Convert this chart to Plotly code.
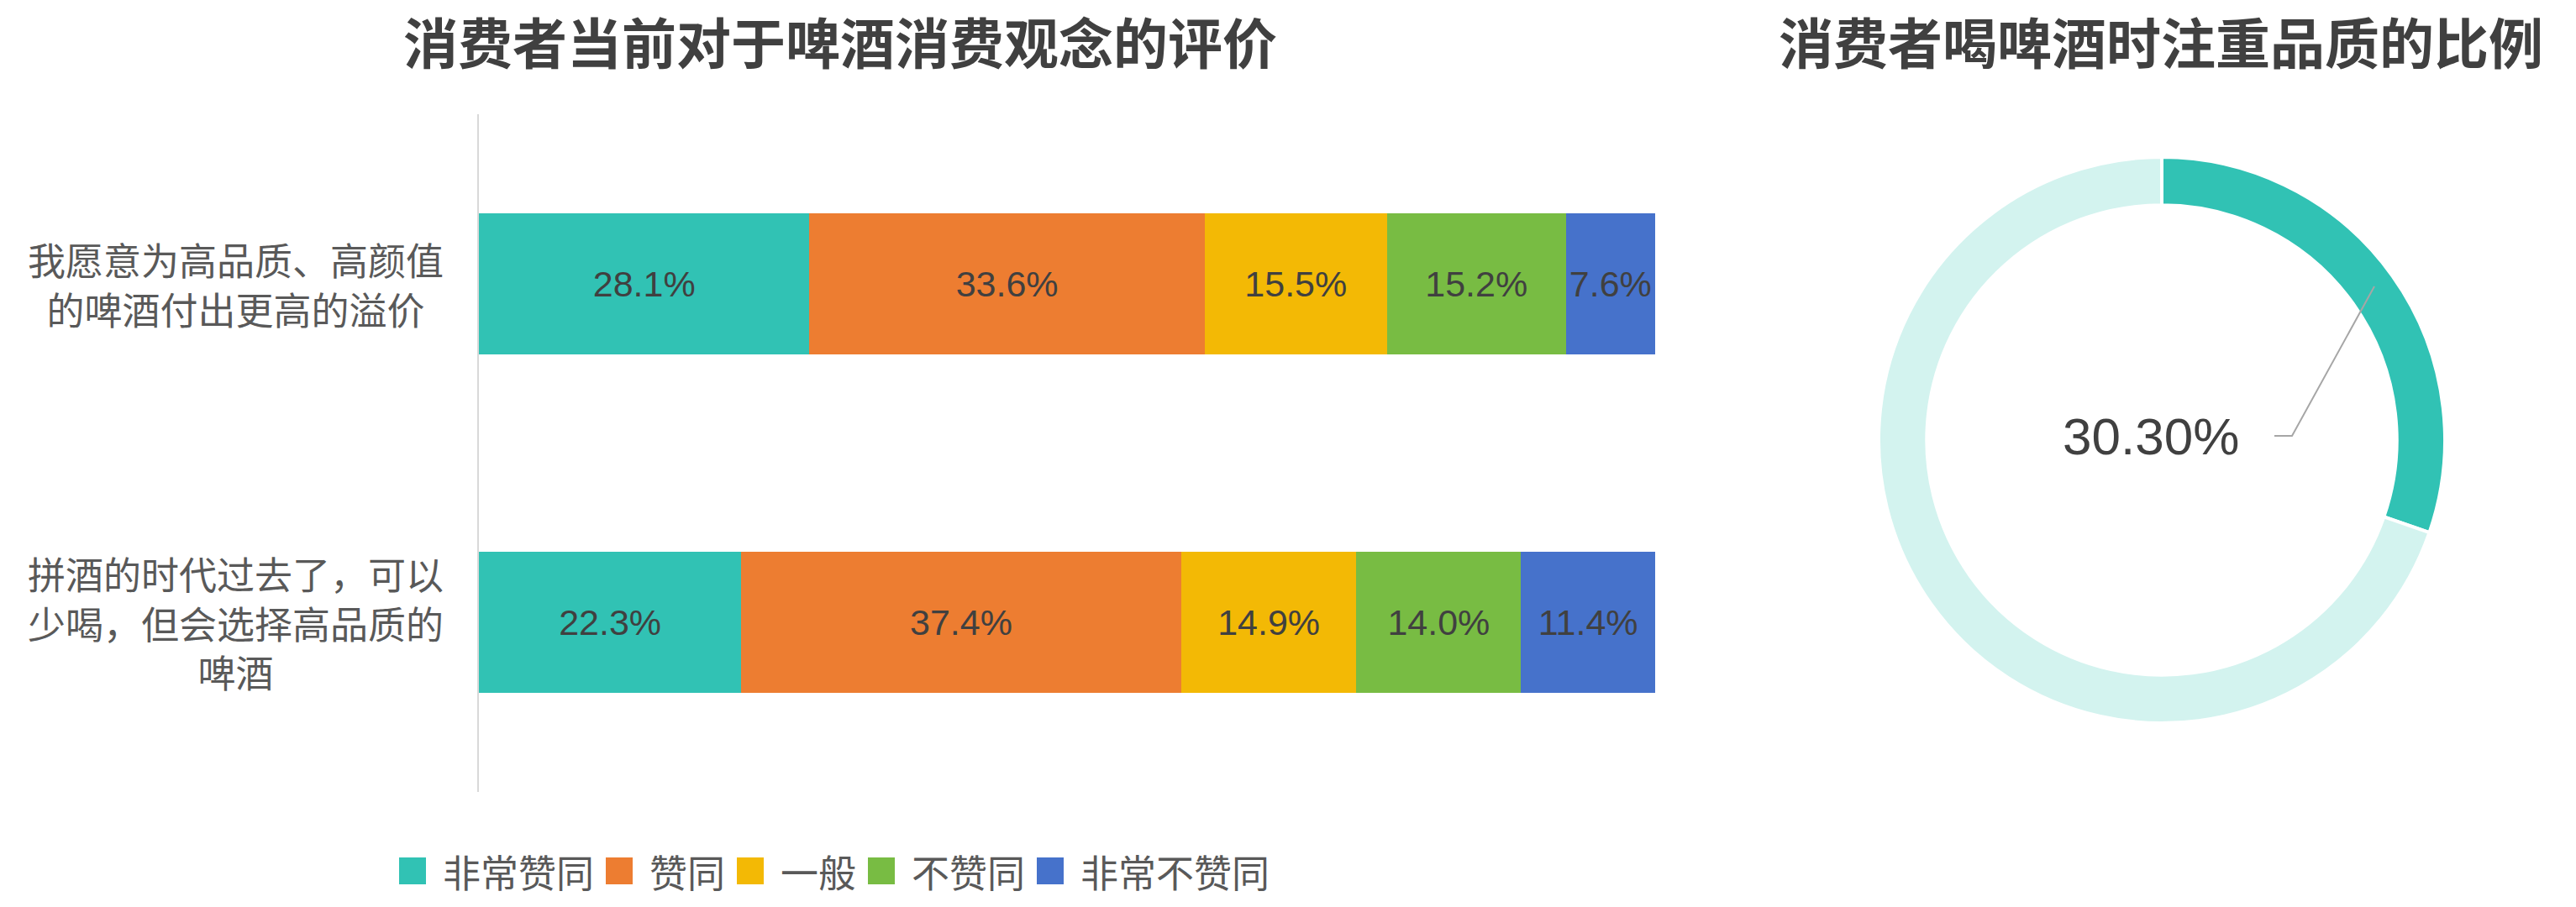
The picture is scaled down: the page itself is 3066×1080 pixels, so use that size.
import plotly.graph_objects as go

W, H = 3066, 1080

# ---- data ----
categories = [
    "我愿意为高品质、高颜值<br>的啤酒付出更高的溢价",
    "拼酒的时代过去了，可以<br>少喝，但会选择高品质的<br>啤酒",
]
levels = ["非常赞同", "赞同", "一般", "不赞同", "非常不赞同"]
very_agree = [28.1, 22.3]
agree = [33.6, 37.4]
neutral = [15.5, 14.9]
disagree = [15.2, 14.0]
very_disagree = [7.6, 11.4]
level_colors = ["#31C2B4", "#ED7D31", "#F3B905", "#78BC43", "#4672CB"]

donut_labels = ["注重品质", "其他"]
donut_values = [30.3, 69.7]
donut_colors = ["#31C2B4", "#D3F3EF"]

left_title = "消费者当前对于啤酒消费观念的评价"
right_title = "消费者喝啤酒时注重品质的比例"

CJK = "Noto Sans CJK SC"
NUM = "Liberation Sans Narrow, Arial Narrow, Liberation Sans, Arial"
DARK = "#404040"
GREY = "#595959"


def px(x):
    return x / W


def py(y):
    return 1 - y / H


fig = go.Figure()

series = [very_agree, agree, neutral, disagree, very_disagree]
for name, vals, col in zip(levels, series, level_colors):
    fig.add_trace(go.Bar(
        y=categories, x=vals, name=name, orientation="h",
        marker=dict(color=col, line=dict(width=0)),
        text=[f"{v:.1f}%" for v in vals],
        textposition="inside", insidetextanchor="middle",
        textangle=0, constraintext="none",
        textfont=dict(family=NUM, size=43, color=DARK),
        showlegend=False, hoverinfo="skip",
    ))

fig.add_trace(go.Pie(
    labels=donut_labels, values=donut_values, hole=0.83,
    sort=False, direction="clockwise", rotation=0,
    marker=dict(colors=donut_colors, line=dict(color="white", width=4)),
    textinfo="none", showlegend=False, hoverinfo="skip",
    domain=dict(x=[px(2573 - 337), px(2573 + 337)],
                y=[py(524 + 337), py(524 - 337)]),
))

annotations = [
    dict(text=left_title, x=px(1000), y=py(48), xref="paper", yref="paper",
         showarrow=False, xanchor="center", yanchor="middle",
         font=dict(family=CJK, size=65, color=DARK, weight=700)),
    dict(text=right_title, x=px(2572), y=py(48), xref="paper", yref="paper",
         showarrow=False, xanchor="center", yanchor="middle",
         font=dict(family=CJK, size=65, color=DARK, weight=700)),
    dict(text=f"{donut_values[0]:.2f}%", x=px(2560), y=py(519),
         xref="paper", yref="paper", showarrow=False,
         xanchor="center", yanchor="middle",
         font=dict(family="Liberation Sans, Arial", size=62, color=DARK)),
]

# category labels, centred like the original
for cat in categories:
    annotations.append(dict(
        text=cat, x=px(280), y=cat, xref="paper", yref="y",
        showarrow=False, xanchor="center", yanchor="middle", align="center",
        font=dict(family=CJK, size=45, color=GREY),
    ))

shapes = [
    # leader line for the donut label
    dict(type="path", xref="paper", yref="paper",
         path=f"M {px(2707)} {py(519)} L {px(2728)} {py(519)} L {px(2826)} {py(341)}",
         line=dict(color="#A6A6A6", width=2)),
]

# hand-built legend with large square swatches
lx = 475
ly = 1037
for name, col in zip(levels, level_colors):
    shapes.append(dict(type="rect", xref="paper", yref="paper",
                       x0=px(lx), x1=px(lx + 32), y0=py(ly + 16), y1=py(ly - 16),
                       fillcolor=col, line=dict(width=0)))
    annotations.append(dict(text=name, x=px(lx + 50), y=py(ly), xref="paper", yref="paper",
                            showarrow=False, xanchor="left", yanchor="middle",
                            font=dict(family=CJK, size=45, color=GREY)))
    lx += 50 + len(name) * 45 + 16

fig.update_layout(
    width=W, height=H, autosize=False,
    margin=dict(l=0, r=0, t=0, b=0),
    paper_bgcolor="white", plot_bgcolor="white",
    barmode="stack", bargap=0.583,
    xaxis=dict(domain=[px(570), px(1970)], range=[0, 100], visible=False, fixedrange=True),
    yaxis=dict(domain=[py(943), py(136)], categoryorder="array", categoryarray=categories,
               autorange="reversed", showticklabels=False, ticks="",
               showline=True, linecolor="#D9D9D9", linewidth=2, showgrid=False,
               zeroline=False, fixedrange=True),
    annotations=annotations,
    shapes=shapes,
    showlegend=False,
)

fig.write_html("out.html", config={"displayModeBar": False},
               post_script="document.body.style.margin='0';")
